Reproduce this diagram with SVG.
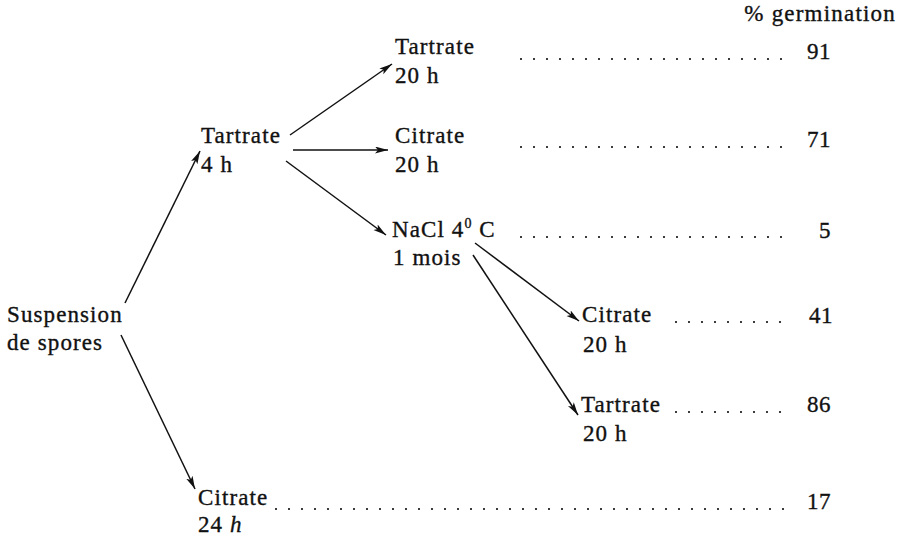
<svg xmlns="http://www.w3.org/2000/svg" width="901" height="541" viewBox="0 0 901 541">
  <style>
    text { font-family: "Liberation Serif", "Times New Roman", serif; font-size: 23px; fill: #111; stroke: #111; stroke-width: 0.35px; letter-spacing: 1.1px; }
    .num { text-anchor: end; letter-spacing: 0.5px; }
    .edge { stroke: #111; stroke-width: 1.5; fill: none; marker-end: url(#head); }
    .dots { stroke: #111; stroke-width: 2.2; stroke-linecap: round; stroke-dasharray: 0 13; fill: none; }
  </style>
  <defs>
    <marker id="head" markerUnits="userSpaceOnUse" markerWidth="14" markerHeight="8" refX="13" refY="3.5" orient="auto">
      <path d="M0,0 L13,3.5 L0,7 L3,3.5 Z" fill="#111"/>
    </marker>
  </defs>
  <rect width="901" height="541" fill="#fff"/>

  <!-- column header -->
  <text id="header" x="896" y="21" class="num" style="letter-spacing:1.2px">% germination</text>

  <!-- nodes -->
  <g id="suspension">
    <text x="7" y="322">Suspension</text>
    <text x="7" y="350">de spores</text>
  </g>
  <g id="tartrate-4h">
    <text x="201" y="143">Tartrate</text>
    <text x="201" y="172">4 h</text>
  </g>
  <g id="tartrate-20h">
    <text x="395" y="54">Tartrate</text>
    <text x="395" y="83">20 h</text>
  </g>
  <g id="citrate-20h">
    <text x="395" y="143">Citrate</text>
    <text x="395" y="172">20 h</text>
  </g>
  <g id="nacl">
    <text x="392" y="237">NaCl 4<tspan font-size="14" dy="-9">0</tspan><tspan dy="9"> C</tspan></text>
    <text x="393" y="265">1 mois</text>
  </g>
  <g id="nacl-citrate">
    <text x="582" y="322">Citrate</text>
    <text x="583" y="352">20 h</text>
  </g>
  <g id="nacl-tartrate">
    <text x="581" y="412">Tartrate</text>
    <text x="583" y="441">20 h</text>
  </g>
  <g id="citrate-24h">
    <text x="198" y="505">Citrate</text>
    <text x="198" y="532">24 <tspan font-style="italic">h</tspan></text>
  </g>

  <!-- germination results -->
  <g id="results">
    <line class="dots" x1="521" y1="59" x2="784" y2="59"/>
    <text class="num" x="831" y="59">91</text>
    <line class="dots" x1="521" y1="147" x2="784" y2="147"/>
    <text class="num" x="831" y="147">71</text>
    <line class="dots" x1="521" y1="237" x2="784" y2="237"/>
    <text class="num" x="831" y="238">5</text>
    <line class="dots" x1="676" y1="322" x2="784" y2="322"/>
    <text class="num" x="833" y="323">41</text>
    <line class="dots" x1="676" y1="412" x2="784" y2="412"/>
    <text class="num" x="831" y="412">86</text>
    <line class="dots" x1="276" y1="509" x2="784" y2="509"/>
    <text class="num" x="831" y="509">17</text>
  </g>

  <!-- connectors -->
  <g id="connectors">
    <line class="edge" x1="125" y1="303" x2="200" y2="151"/>
    <line class="edge" x1="121" y1="335" x2="195" y2="489"/>
    <line class="edge" x1="290" y1="135" x2="392" y2="64"/>
    <line class="edge" x1="293" y1="150" x2="388" y2="150"/>
    <line class="edge" x1="286" y1="161" x2="386" y2="235"/>
    <line class="edge" x1="475" y1="243" x2="579" y2="321"/>
    <line class="edge" x1="473" y1="255" x2="578" y2="415"/>
  </g>
</svg>
